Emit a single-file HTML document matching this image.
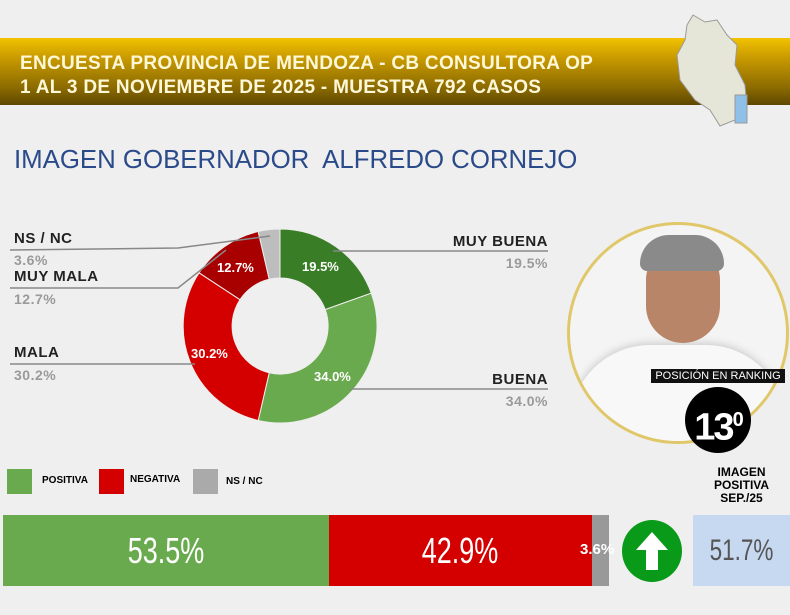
<!DOCTYPE html>
<html><head><style>
body{margin:0;width:790px;height:615px;background:#efefef;overflow:hidden;font-family:"Liberation Sans",sans-serif;position:relative}
.a{position:absolute}
.lb{font-weight:bold;font-size:15px;color:#222;letter-spacing:0.5px}
.pv{font-weight:bold;font-size:14px;color:#9a9a9a;letter-spacing:0.5px}
.big{display:inline-block;transform:scaleX(0.75)}
</style></head><body>
<div class="a" style="left:0;top:38px;width:790px;height:67px;background:linear-gradient(#f2c200 0%,#c89a00 30%,#8a6a00 75%,#5e4700 100%)"></div>
<div class="a" style="left:20px;top:52px;color:#fff8d8;font-size:19px;font-weight:bold;line-height:24px;letter-spacing:0.3px">ENCUESTA PROVINCIA DE MENDOZA - CB CONSULTORA OP<br>1 AL 3 DE NOVIEMBRE DE 2025 - MUESTRA 792 CASOS</div>
<svg class="a" style="left:665px;top:10px" width="100" height="120"><path d="M28 5 L40 12 L52 10 L62 25 L72 35 L70 55 L80 75 L82 98 L70 110 L55 116 L45 100 L30 90 L15 70 L12 45 L20 30 L22 15Z" fill="#e6e6d8" stroke="#999" stroke-width="1"/><rect x="70" y="85" width="12" height="28" fill="#8fc0e8" stroke="#999"/></svg>
<div class="a" style="left:14px;top:146px;font-size:25.8px;color:#2b4a8a">IMAGEN GOBERNADOR&nbsp; ALFREDO CORNEJO</div>
<svg class="a" style="left:0;top:0" width="790" height="615">
<g stroke="#eee" stroke-width="1">
<path d="M280 229 A97 97 0 0 1 371.3 293.2 L325.2 309.6 A48 48 0 0 0 280 278Z" fill="#3a7d27"/>
<path d="M371.3 293.2 A97 97 0 0 1 258.2 420.5 L269.2 372.8 A48 48 0 0 0 325.2 309.6Z" fill="#6aaa4e"/>
<path d="M258.2 420.5 A97 97 0 0 1 199.1 272.8 L240 299.7 A48 48 0 0 0 269.2 372.8Z" fill="#d40000"/>
<path d="M199.1 272.8 A97 97 0 0 1 258.2 231.5 L269.2 279.2 A48 48 0 0 0 240 299.7Z" fill="#a80000"/>
<path d="M258.2 231.5 A97 97 0 0 1 280 229 L280 278 A48 48 0 0 0 269.2 279.2Z" fill="#bdbdbd"/>
</g>
<g stroke="#888" stroke-width="1.5" fill="none">
<polyline points="10,250 178,248 270,236"/>
<polyline points="10,288 178,288 226,250"/>
<polyline points="10,364 195,364"/>
<polyline points="333,251 548,251"/>
<polyline points="350,389 548,389"/>
</g>
<g fill="#fff" font-weight="bold" font-size="13" font-family="Liberation Sans">
<text x="302" y="271">19.5%</text><text x="217" y="272">12.7%</text><text x="191" y="358">30.2%</text><text x="314" y="381">34.0%</text>
</g>
</svg>
<div class="a lb" style="left:14px;top:230px">NS / NC</div><div class="a pv" style="left:14px;top:252px">3.6%</div>
<div class="a lb" style="left:14px;top:268px">MUY MALA</div><div class="a pv" style="left:14px;top:291px">12.7%</div>
<div class="a lb" style="left:14px;top:344px">MALA</div><div class="a pv" style="left:14px;top:367px">30.2%</div>
<div class="a lb" style="right:242px;top:233px">MUY BUENA</div><div class="a pv" style="right:242px;top:255px">19.5%</div>
<div class="a lb" style="right:242px;top:371px">BUENA</div><div class="a pv" style="right:242px;top:393px">34.0%</div>
<div class="a" style="left:567px;top:222px;width:216px;height:216px;border-radius:50%;border:3px solid #e0c86a;background:#f4f4f4;overflow:hidden">
<div class="a" style="left:0;top:120px;width:216px;height:110px;background:#f8f8f8;border-radius:80px 80px 0 0;box-shadow:0 -2px 8px #ccc"></div>
<div class="a" style="left:76px;top:22px;width:74px;height:96px;border-radius:37px 37px 42px 42px;background:#b98568"></div>
<div class="a" style="left:70px;top:10px;width:84px;height:36px;border-radius:40px 40px 10px 10px;background:#8a8a8a"></div>
</div>
<div class="a" style="left:651px;top:369px;width:134px;height:14px;background:#111;color:#fff;font-size:11px;line-height:14px;text-align:center">POSICIÓN EN RANKING</div>
<div class="a" style="left:685px;top:387px;width:66px;height:66px;border-radius:50%;background:#000;color:#fff;font-weight:bold;font-size:38px;line-height:66px;text-align:center;letter-spacing:-2px">13<sup style="font-size:20px">0</sup></div>
<div class="a" style="left:7px;top:469px;width:25px;height:25px;background:#6aaa4e"></div><div class="a" style="left:42px;top:475px;font-size:10px;font-weight:bold">POSITIVA</div>
<div class="a" style="left:99px;top:469px;width:25px;height:25px;background:#d40000"></div><div class="a" style="left:130px;top:474px;font-size:10px;font-weight:bold">NEGATIVA</div>
<div class="a" style="left:193px;top:469px;width:25px;height:25px;background:#aaa"></div><div class="a" style="left:226px;top:476px;font-size:10px;font-weight:bold">NS / NC</div>
<div class="a" style="left:693px;top:466px;width:97px;font-size:12px;font-weight:bold;line-height:13px;text-align:center">IMAGEN<br>POSITIVA<br>SEP./25</div>
<div class="a" style="left:3px;top:515px;width:326px;height:71px;background:#6aaa4e;color:#fff;font-size:36px;line-height:71px;text-align:center"><span class="big">53.5%</span></div>
<div class="a" style="left:329px;top:515px;width:263px;height:71px;background:#d40000;color:#fff;font-size:36px;line-height:71px;text-align:center"><span class="big">42.9%</span></div>
<div class="a" style="left:592px;top:515px;width:17px;height:71px;background:#999;overflow:visible"><div class="a" style="left:-12px;top:26px;color:#fff;font-weight:bold;font-size:15px">3.6%</div></div>
<div class="a" style="left:622px;top:520px;width:60px;height:62px;border-radius:50%;background:#0a9a1a"></div>
<svg class="a" style="left:622px;top:520px" width="60" height="62"><path d="M30 12 L46 30 L36 30 L36 50 L24 50 L24 30 L14 30Z" fill="#fff"/></svg>
<div class="a" style="left:693px;top:515px;width:97px;height:71px;background:#c6d9f1;color:#555;font-size:30px;line-height:71px;text-align:center"><span class="big">51.7%</span></div>
</body></html>
